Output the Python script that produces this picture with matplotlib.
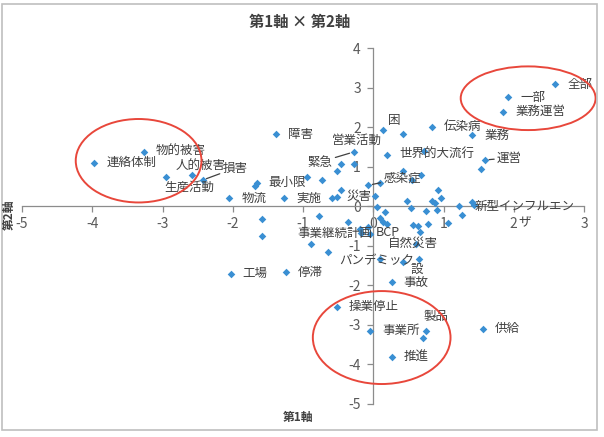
import matplotlib
matplotlib.use("Agg")
import matplotlib.pyplot as plt
from matplotlib.patches import Ellipse, Rectangle

plt.rcParams['font.family'] = ['Noto Sans CJK JP', 'DejaVu Sans']

# ---- data ----
labeled_names = ["全部", "一部", "業務運営", "伝染病", "業務", "運営", "困", "世界的大流行",
                 "感染症", "緊急", "営業活動", "連絡体制", "物的被害", "人的被害", "損害",
                 "生産活動", "障害", "最小限", "物流", "実施", "災害", "新型インフルエン\nザ",
                 "事業継続計画", "BCP", "自然災害", "パンデミック", "設", "事故", "工場",
                 "停滞", "操業停止", "事業所", "製品", "供給", "推進"]
labeled_x = [2.59, 1.92, 1.85, 0.84, 1.41, 1.59, 0.14, 0.20,
             -0.07, -0.28, -0.27, -3.97, -3.27, -2.58, -2.43,
             -2.95, -1.39, -1.66, -2.05, -1.27, 0.03, 1.41,
             -0.17, -0.05, 0.61, 0.09, 0.65, 0.26, -2.03,
             -1.24, -0.52, -0.04, 0.75, 1.56, 0.26]
labeled_y = [3.08, 2.75, 2.39, 2.01, 1.80, 1.17, 1.93, 1.30,
             0.53, 1.37, 1.08, 1.10, 1.38, 0.79, 0.66,
             0.73, 1.82, 0.59, 0.20, 0.20, 0.25, 0.11,
             -0.68, -0.69, -0.95, -1.33, -1.33, -1.92, -1.71,
             -1.67, -2.54, -3.15, -3.16, -3.10, -3.81]

other_x = [0.43, 0.72, 1.54, -0.46, -0.52, -0.94, -0.73, -1.69, 0.10, 0.42, 0.55, 0.68,
           0.92, 0.96, 0.83, 0.88, 0.48, 0.54, 1.22, 1.27, 1.43, -0.46, -0.59, -0.52,
           0.05, 0.17, 0.09, 0.14, 0.19, -0.77, -0.36, -0.19, -0.07, -1.58, -1.58, -0.89,
           -0.65, 0.75, 0.91, 1.06, 0.78, 0.56, 0.64, 0.66, 0.43, 0.71]
other_y = [1.83, 1.39, 0.93, 1.08, 0.89, 0.74, 0.66, 0.51, 0.58, 0.88, 0.66, 0.80,
           0.40, 0.22, 0.14, 0.08, 0.12, -0.04, 0.00, -0.21, 0.02, 0.42, 0.21, 0.23,
           -0.03, -0.14, -0.31, -0.40, -0.46, -0.25, -0.41, -0.57, -0.52, -0.33, -0.75, -0.95,
           -1.16, -0.11, -0.10, -0.42, -0.46, -0.48, -0.51, -0.65, -1.41, -3.32]

x_ticks = [-5, -4, -3, -2, -1, 0, 1, 2, 3]
y_ticks = [-5, -4, -3, -2, -1, 0, 1, 2, 3, 4]
x_tick_labels = ["-5", "-4", "-3", "-2", "-1", "0", "1", "2", "3"]
y_tick_labels = ["-5", "-4", "-3", "-2", "-1", "0", "1", "2", "3", "4"]

# label placement (pixel offsets, alignment, leader line)
label_layout = {
    "困": (5, 9, "left", False),
    "感染症": (15, 7, "left", True),
    "緊急": (-21, -10, "right", True),
    "営業活動": (3, 23, "center", False),
    "人的被害": (9, 9, "center", False),
    "損害": (20, 12, "left", True),
    "生産活動": (23, -10, "center", False),
    "災害": (-4, 0, "right", False),
    "新型インフルエン\nザ": (52, -13, "center", False),
    "事業継続計画": (11, 0, "right", False),
    "BCP": (6, 1, "left", False),
    "自然災害": (-3, 0, "center", False),
    "パンデミック": (-3, -2, "center", False),
    "設": (-2, -11, "center", False),
    "製品": (10, 15, "center", False),
    "運営": (12, 2, "left", True),
}

fig = plt.figure(figsize=(6.04, 4.37), dpi=100)
ax = fig.add_axes([22 / 604, 1 - 404 / 437, 562 / 604, 356 / 437])

marker_color = "#3A8FD3"
ax.scatter(other_x + labeled_x, other_y + labeled_y, marker="D", s=15,
           color=marker_color, zorder=3, linewidths=0)

text_color = "#404040"
for name, x, y in zip(labeled_names, labeled_x, labeled_y):
    dx, dy, ha, leader = label_layout.get(name, (12, 0, "left", False))
    kw = {}
    if leader:
        kw["arrowprops"] = dict(arrowstyle="-", color="#404040", lw=0.9,
                                shrinkA=0, shrinkB=3)
    ax.annotate(name, xy=(x, y), xytext=(dx, dy), textcoords="offset pixels",
                ha=ha, va="center", fontsize=9, color=text_color,
                multialignment="center", linespacing=1.3, zorder=4, **kw)

ax.set_xlim(-5, 3)
ax.set_ylim(-5, 4)
ax.set_xticks(x_ticks)
ax.set_yticks(y_ticks)
serif = ["Liberation Serif", "DejaVu Serif"]
ax.set_xticklabels(x_tick_labels, fontfamily=serif)
ax.set_yticklabels(y_tick_labels, fontfamily=serif)
for s in ["top", "right"]:
    ax.spines[s].set_visible(False)
for s in ["left", "bottom"]:
    ax.spines[s].set_position(("data", 0))
    ax.spines[s].set_color("#8C8C8C")
    ax.spines[s].set_linewidth(0.9)
ax.tick_params(axis="both", colors="#8C8C8C", length=4, width=0.9,
               labelcolor="#595959", labelsize=10)
ax.tick_params(axis="x", pad=4)
ax.tick_params(axis="y", pad=5)
ax.patch.set_alpha(0)

# red ellipses
ell_color = "#E8473B"
for cx, cy, w, h in [(-3.34, 1.15, 1.79, 2.11), (2.205, 2.73, 1.92, 1.61), (0.12, -3.32, 1.96, 2.35)]:
    ax.add_patch(Ellipse((cx, cy), w, h, fill=False, edgecolor=ell_color,
                         lw=1.4, clip_on=False, zorder=5))

# titles
fig.text(300 / 604, 1 - 22 / 437, "第1軸 × 第2軸", ha="center", va="center",
         fontsize=11, fontweight="bold", color="#404040")
fig.text(298 / 604, 1 - 417 / 437, "第1軸", ha="center", va="center",
         fontsize=8.5, fontweight="bold", color="#404040")
fig.text(9 / 604, 1 - 215 / 437, "第2軸", ha="center", va="center", rotation=90,
         fontsize=8.5, fontweight="bold", color="#404040")

fig.patches.append(Rectangle((2 / 604, 7 / 437), 595 / 604, 426 / 437,
                             transform=fig.transFigure, fill=False,
                             edgecolor="#BFBFBF", lw=1.2))

fig.savefig("out.png", dpi=100)
